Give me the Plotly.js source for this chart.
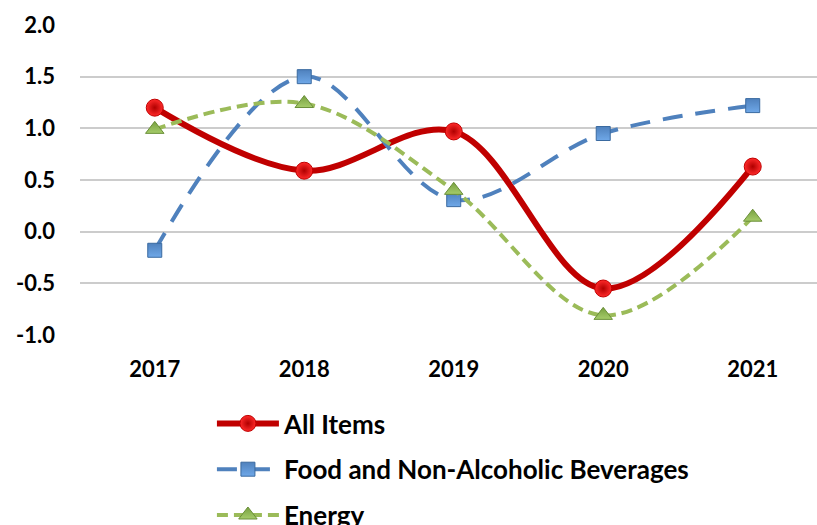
<!DOCTYPE html>
<html>
<head>
<meta charset="utf-8">
<script src="https://cdn.plot.ly/plotly-3.0.1.min.js"></script>
<style>html,body{margin:0;padding:0;background:#fff;}#chart{width:817px;height:525px;}</style>
</head>
<body>
<div id="chart"></div>
<script>
const years = ['2017', '2018', '2019', '2020', '2021'];
const allItems = [1.2, 0.59, 0.97, -0.55, 0.63];
const foodBev = [-0.18, 1.5, 0.31, 0.95, 1.22];
const energy = [0.99, 1.24, 0.4, -0.81, 0.14];
const yTicks = [-1.0, -0.5, 0.0, 0.5, 1.0, 1.5, 2.0];

const FONT = 'Lato, "Open Sans", sans-serif';

const traces = [
  {
    x: years, y: allItems, name: 'All Items', type: 'scatter', mode: 'lines+markers',
    legendgroup: 'a',
    line: {color: '#c00000', width: 6, shape: 'spline', smoothing: 1},
    marker: {symbol: 'circle', size: 17, color: '#ff2a2a',
      gradient: {type: 'radial', color: '#b00000'},
      line: {color: '#c00000', width: 1}}
  },
  {
    x: years, y: foodBev, name: 'Food and Non-Alcoholic Beverages', type: 'scatter', mode: 'lines+markers',
    legendgroup: 'b',
    line: {color: '#4f81bd', width: 4, dash: '20px,13px', shape: 'spline', smoothing: 1},
    marker: {symbol: 'square', size: 14, color: '#4f81bd',
      gradient: {type: 'vertical', color: '#6fa8e8'},
      line: {color: '#3a6aa0', width: 1}}
  },
  {
    x: years, y: energy, name: 'Energy', type: 'scatter', mode: 'lines+markers',
    legendgroup: 'c',
    line: {color: '#9bbb59', width: 4, dash: '11px,6px', shape: 'spline', smoothing: 1},
    marker: {symbol: 'triangle-up', size: 16, color: '#77a040',
      gradient: {type: 'vertical', color: '#a6cc6a'},
      line: {color: '#6a8f38', width: 1}}
  }
];

const layout = {
  width: 817, height: 525,
  margin: {l: 80, r: 0, t: 25, b: 190, autoexpand: false},
  paper_bgcolor: '#ffffff', plot_bgcolor: '#ffffff',
  font: {family: FONT, size: 22, color: '#000'},
  showlegend: true,
  legend: {
    orientation: 'v',
    x: 0.179, xanchor: 'left', y: (335 - 400) / 310, yanchor: 'top',
    font: {family: FONT, size: 26, color: '#000', weight: 'bold'},
    itemwidth: 62, tracegroupgap: 9, bgcolor: 'rgba(0,0,0,0)'
  },
  xaxis: {
    type: 'category', range: [-0.5, 4.43], automargin: false,
    showgrid: false, zeroline: false, showline: false, ticks: '',
    ticklabelstandoff: 19, tickangle: 0,
    tickfont: {family: FONT, size: 22, color: '#000', weight: 'bold'},
    fixedrange: true
  },
  yaxis: {
    range: [-1.0, 2.0], tickvals: yTicks, ticktext: yTicks.map(v => v.toFixed(1)),
    automargin: false,
    showgrid: true, gridcolor: '#cccccc', gridwidth: 2,
    zeroline: false, showline: false, ticks: '',
    ticklabelstandoff: 24,
    tickfont: {family: FONT, size: 22, color: '#000', weight: 'bold'},
    fixedrange: true
  }
};

Plotly.newPlot('chart', traces, layout, {displayModeBar: false, staticPlot: true});
</script>
</body>
</html>
